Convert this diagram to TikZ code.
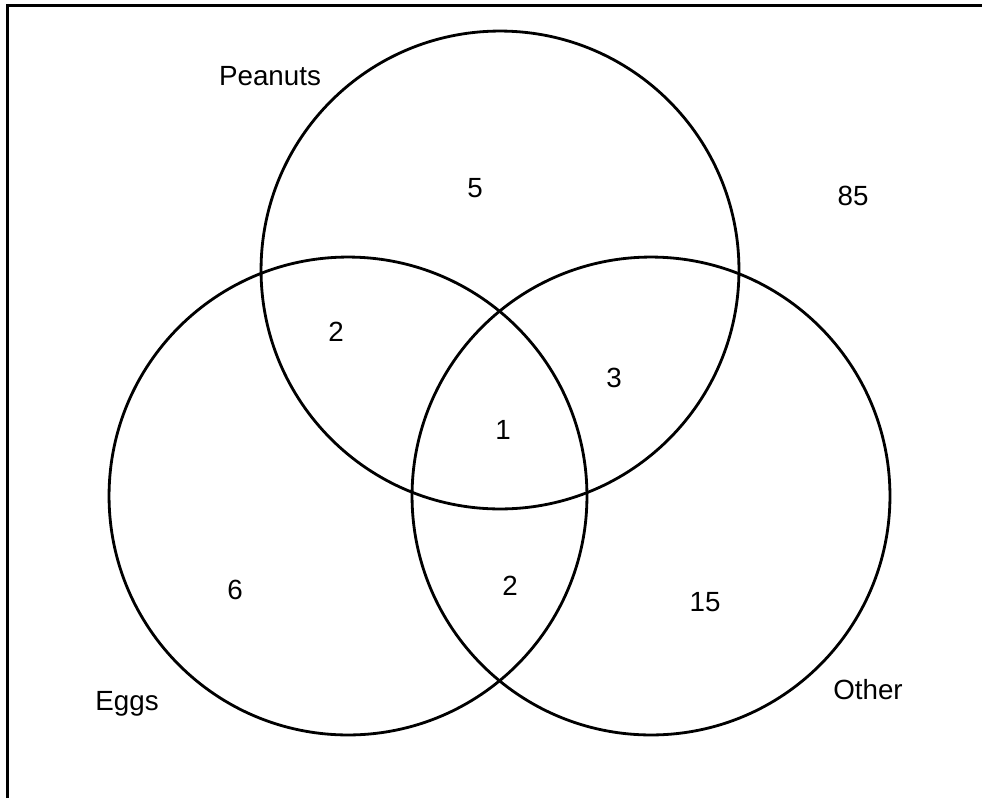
\documentclass[tikz,border=0pt]{standalone}
\usepackage{fontspec}
\setmainfont{Liberation Sans}
\begin{document}
\begin{tikzpicture}[
  x=0.02cm, y=-0.02cm,
  every node/.style={font=\fontsize{15.8}{18}\selectfont},
  set/.style={circle, draw, line width=1.6pt, minimum size=9.56cm, inner sep=0pt},
  frameline/.style={line width=1.4pt}
]
\useasboundingbox (0,0) rectangle (982,798);
% outer frame (only top and left edges are inside the picture)
\coordinate (fbl) at (7.5,798);
\coordinate (ftl) at (7.5,5.5);
\coordinate (ftr) at (982,5.5);
\draw[frameline] (fbl) -- (ftl) -- (ftr);

% the three sets
\node[set] (peanuts) at (500,270) {};
\node[set] (eggs) at (348,496) {};
\node[set] (other) at (651,496) {};

% set names
\node (lpeanuts) at (270,76) {Peanuts};
\node (leggs) at (127,704) {Eggs};
\node (lother) at (868,690) {Other};

% counts
\node (nP) at (475,188) {5};
\node (nPE) at (336,332) {2};
\node (nPO) at (614,378) {3};
\node (nPEO) at (503,430) {1};
\node (nE) at (235,590) {6};
\node (nEO) at (510,586) {2};
\node (nO) at (705,602) {15};
\node (nnone) at (853,196) {85};
\end{tikzpicture}
\end{document}
